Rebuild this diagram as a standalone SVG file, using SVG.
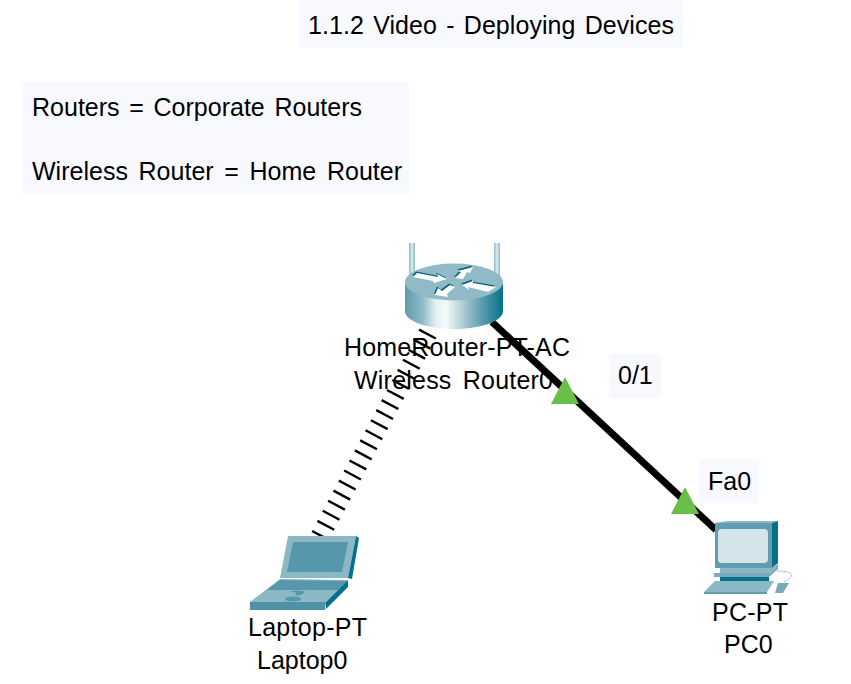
<svg xmlns="http://www.w3.org/2000/svg" width="851" height="684" viewBox="0 0 851 684">
<style>
text{font-family:"Liberation Sans",Arial,sans-serif;font-size:25px;fill:#000}
.note{fill:#f8f9ff}
.tri{fill:#6abf4b}
.dk{fill:#0d6478}
.wh{fill:#fff}
.lt{fill:#8cb8c6}
.md{fill:#5797ac}
.dp{fill:#04708a}
</style>
<defs>
<linearGradient id="cyl" x1="0" x2="1" y1="0" y2="0">
<stop offset="0" stop-color="#5f9aab"/><stop offset="0.18" stop-color="#8fbcc8"/><stop offset="0.32" stop-color="#e6f1f3"/><stop offset="0.42" stop-color="#f4fafa"/><stop offset="0.7" stop-color="#7fb0bd"/><stop offset="1" stop-color="#04708a"/>
</linearGradient>
<linearGradient id="ant" x1="0" x2="1" y1="0" y2="0">
<stop offset="0" stop-color="#8db8c4"/><stop offset="0.5" stop-color="#dcecef"/><stop offset="1" stop-color="#8db8c4"/>
</linearGradient>
<path id="arrows" d="M413 277L417 273L438 277L437 274L447 279L434 283L433 281ZM455 278L461 272L458 271L473 267L470 273L467 272L463 279ZM462 285L473 281L473 283L496 287L488 292L468 287L469 290ZM435 295L438 288L442 291L450 285L455 287L447 294L448 297Z"/>
</defs>
<rect width="851" height="684" fill="#fff"/>
<g id="title"><rect class="note" x="299" y="0" width="384" height="48"/><text x="308" y="34" word-spacing="2.200" textLength="366">1.1.2 Video - Deploying Devices</text></g>
<g id="note"><rect class="note" x="23" y="82" width="386" height="112"/><text x="32" y="116" word-spacing="2.700" textLength="330">Routers = Corporate Routers</text><text x="32" y="180" word-spacing="3.700" textLength="370">Wireless Router = Home Router</text></g>
<g id="port-labels"><rect class="note" x="609" y="354" width="52" height="44"/><text x="618" y="384">0/1</text><rect class="note" x="699" y="459" width="60" height="44"/><text x="708" y="490">Fa0</text></g>
<g id="connectors">
<line x1="428" y1="333" x2="318" y2="540" stroke="#000" stroke-width="19" stroke-dasharray="2.400 9"/>
<line x1="492" y1="322" x2="716" y2="530" stroke="#000" stroke-width="7"/>
<polygon class="tri" points="565,377 579,404 551,404"/>
<polygon class="tri" points="685,487 699,514 671,514"/>
</g>
<g id="router">
<rect x="409" y="243" width="6" height="34" fill="url(#ant)"/>
<rect x="494" y="243" width="6" height="34" fill="url(#ant)"/>
<path d="M405 284V311C405 322 430 329 454 329C478 329 503 322 503 311V284Z" fill="url(#cyl)"/>
<ellipse cx="454" cy="282" rx="49" ry="18.500" fill="#8fbac6"/>
<use href="#arrows" class="dk" transform="translate(-1 -1.500)"/>
<use href="#arrows" class="wh"/>
</g>
<g id="laptop">
<path class="lt" d="M288 536H356L348 578H280Z"/>
<path class="dp" d="M356 536L359 538L352 579L348 578Z"/>
<path class="md" d="M293 542H348L342 572H287Z"/>
<path class="lt" d="M280 579L348 580L326 602H250Z"/>
<path class="md" d="M280 580L347 581L338 590H267Z"/>
<path d="M250 602H326L325 610H250Z" fill="#4f91a6"/>
<path class="dp" d="M348 580V587L326 609V602Z"/>
<ellipse cx="293" cy="599" rx="8" ry="2.500" class="md"/>
<path class="md" d="M290 592C294 590 302 590 305 592C303 595 298 596 295 595C298 593 296 592 290 592Z"/>
</g>
<g id="pc">
<path class="lt" d="M715 523L727 521H778L772 523Z"/>
<path class="dp" d="M772 523L778 521V563L772 568Z"/>
<rect x="715" y="523" width="57" height="45" fill="#5f9db1"/>
<rect x="718" y="529" width="50" height="34" rx="4" fill="#d4e4ea"/>
<path class="lt" d="M720 568H772L778 563V566L770 573H720Z"/>
<path d="M714 573H770L778 565V569L769 577H714Z" fill="#7aa9b9"/>
<rect x="720" y="577" width="49" height="4" class="dp"/>
<path class="lt" d="M715 581H774L767 592H704Z"/>
<path d="M704 592H767V594H704Z" fill="#5f9db1"/>
<path d="M778 583H789L783 593H775Z" fill="#7aa9b9"/>
<path d="M784 582C790 579 794 576 790 573C787 571 780 571 777 571" fill="none" stroke="#a9cdd5" stroke-width="1"/>
</g>
<g id="labels">
<text x="344" y="356" textLength="226">HomeRouter-PT-AC</text><text x="354" y="389" word-spacing="4" textLength="199">Wireless Router0</text>
<text x="248" y="636" textLength="119">Laptop-PT</text><text x="257" y="669">Laptop0</text>
<text x="712" y="621" textLength="76">PC-PT</text><text x="724" y="653">PC0</text>
</g>
</svg>
